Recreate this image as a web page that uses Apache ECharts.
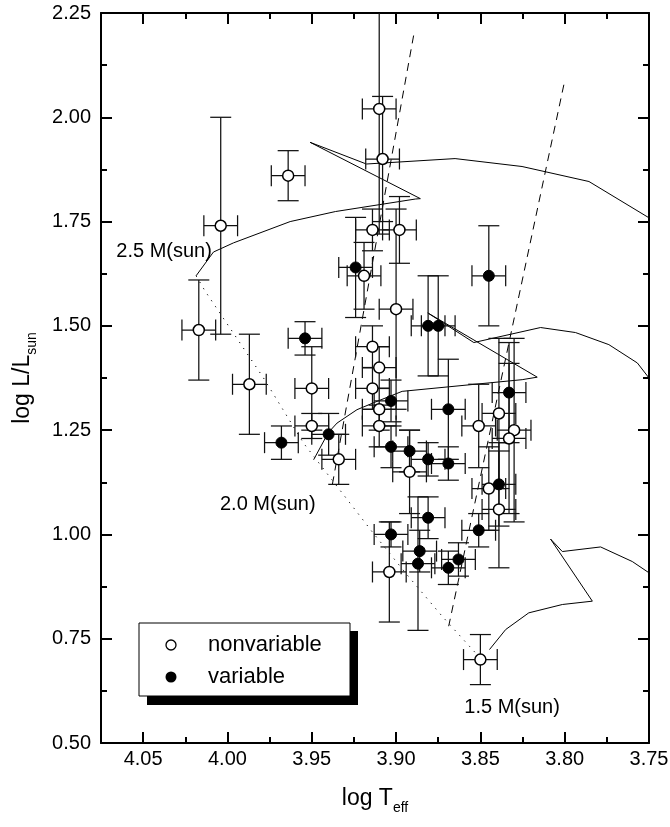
<!DOCTYPE html>
<html>
<head>
<meta charset="utf-8">
<script src="https://cdn.jsdelivr.net/npm/echarts@6.0.0/dist/echarts.min.js"></script>
<style>
  html, body { margin: 0; padding: 0; background: #fff; }
  #chart { width: 670px; height: 827px; }
</style>
</head>
<body>
<div id="chart"></div>
<script>
// nonvariable stars (open circles): log Teff, log L, errors
var nonvarT = [4.004, 3.964, 4.017, 3.987, 3.950, 3.950, 3.934, 3.904, 3.910, 3.908, 3.914, 3.898, 3.919, 3.900,
               3.914, 3.910, 3.914, 3.910, 3.910, 3.892, 3.839, 3.851, 3.830, 3.833, 3.845, 3.839, 3.850];
var nonvarL = [1.74, 1.86, 1.49, 1.36, 1.35, 1.26, 1.18, 0.91, 2.02, 1.90, 1.73, 1.73, 1.62, 1.54,
               1.45, 1.40, 1.35, 1.30, 1.26, 1.15, 1.29, 1.26, 1.25, 1.23, 1.11, 1.06, 0.70];
var nonvarTErr = [0.01, 0.01, 0.01, 0.01, 0.01, 0.01, 0.01, 0.01, 0.01, 0.01, 0.01, 0.01, 0.01, 0.01,
                  0.01, 0.01, 0.01, 0.01, 0.01, 0.01, 0.01, 0.01, 0.01, 0.01, 0.01, 0.01, 0.01];
var nonvarLErr = [0.26, 0.06, 0.12, 0.12, 0.10, 0.03, 0.06, 0.12, 0.30, 0.15, 0.05, 0.08, 0.08, 0.24,
                  0.05, 0.05, 0.05, 0.05, 0.05, 0.10, 0.18, 0.10, 0.22, 0.18, 0.10, 0.14, 0.06];

// variable stars (filled circles)
var varT = [3.954, 3.968, 3.940, 3.924, 3.903, 3.903, 3.892, 3.881, 3.875, 3.845, 3.833,
            3.869, 3.881, 3.869, 3.839, 3.903, 3.881, 3.851, 3.886, 3.887, 3.863, 3.869];
var varL = [1.47, 1.22, 1.24, 1.64, 1.32, 1.21, 1.20, 1.50, 1.50, 1.62, 1.34,
            1.30, 1.18, 1.17, 1.12, 1.00, 1.04, 1.01, 0.96, 0.93, 0.94, 0.92];
var varTErr = [0.01, 0.01, 0.01, 0.01, 0.01, 0.01, 0.01, 0.01, 0.01, 0.01, 0.01,
               0.01, 0.01, 0.01, 0.01, 0.01, 0.01, 0.01, 0.01, 0.01, 0.01, 0.01];
var varLErr = [0.04, 0.04, 0.05, 0.12, 0.05, 0.05, 0.05, 0.12, 0.12, 0.12, 0.12,
               0.12, 0.04, 0.04, 0.10, 0.03, 0.05, 0.04, 0.05, 0.16, 0.04, 0.04];

// evolutionary tracks [log Teff, log L]
var track25 = [[4.0186, 1.620], [4.0083, 1.677], [3.9964, 1.699], [3.9628, 1.750], [3.936, 1.774],
               [3.8886, 1.804], [3.8856, 1.805], [3.951, 1.940], [3.9176, 1.888], [3.865, 1.901],
               [3.8253, 1.882], [3.7856, 1.846], [3.750, 1.759]];
var track20 = [[3.9489, 1.179], [3.9402, 1.244], [3.935, 1.267], [3.9232, 1.299], [3.9113, 1.319],
               [3.8964, 1.343], [3.8252, 1.371], [3.8163, 1.377], [3.8812, 1.531], [3.8539, 1.460],
               [3.8143, 1.496], [3.7936, 1.484], [3.7738, 1.455], [3.7569, 1.411], [3.750, 1.375]];
var track15 = [[3.8446, 0.724], [3.835, 0.772], [3.8213, 0.812], [3.8014, 0.832], [3.7836, 0.840],
               [3.7827, 0.844], [3.8084, 0.989], [3.8014, 0.959], [3.7787, 0.970], [3.7599, 0.935],
               [3.750, 0.908]];
var zams = [[4.0186, 1.620], [4.0132, 1.583], [3.9786, 1.375], [3.9549, 1.219], [3.9143, 1.007],
            [3.8945, 0.908], [3.8727, 0.804], [3.8529, 0.716]];
// instability strip edges
var blueEdge = [[3.8896, 2.196], [3.938, 1.115]];
var redEdge = [[3.8005, 2.078], [3.8688, 0.780]];

// track labels
var massLabels = [[4.0376, 1.678, '2.5 M(sun)'], [3.9761, 1.071, '2.0 M(sun)'], [3.8312, 0.585, '1.5 M(sun)']];

var xTicks = { min: 3.75, max: 4.075, major: 0.05, minor: 0.025 };
var yTicks = { min: 0.5, max: 2.25, major: 0.25 };

var font = 'Liberation Sans, Arial, Helvetica, sans-serif';

function errData(ts, ls, te, le) {
  return ts.map(function (t, i) { return [t, ls[i], te[i], le[i]]; });
}

function errorBars(params, api) {
  var x = api.value(0), y = api.value(1), dx = api.value(2), dy = api.value(3);
  var c = api.coord([x, y]);
  var xl = api.coord([x + dx, y])[0];
  var xr = api.coord([x - dx, y])[0];
  var yt = api.coord([x, y + dy])[1];
  var yb = api.coord([x, y - dy])[1];
  var cap = 10.5;
  function seg(x1, y1, x2, y2) {
    return { type: 'line', shape: { x1: x1, y1: y1, x2: x2, y2: y2 },
             style: { stroke: '#111', lineWidth: 1.25, fill: null } };
  }
  return {
    type: 'group',
    children: [
      seg(xl, c[1], xr, c[1]),
      seg(xl, c[1] - cap, xl, c[1] + cap),
      seg(xr, c[1] - cap, xr, c[1] + cap),
      seg(c[0], yt, c[0], yb),
      seg(c[0] - cap, yt, c[0] + cap, yt),
      seg(c[0] - cap, yb, c[0] + cap, yb)
    ]
  };
}

function xAxisOf(pos, interval, tickLen, withLine, withLabel) {
  var ax = {
    type: 'value', position: pos, min: xTicks.min, max: xTicks.max, inverse: true,
    interval: interval,
    axisLine: { show: withLine, onZero: false, lineStyle: { color: '#000', width: 2 } },
    axisTick: { inside: true, length: tickLen, lineStyle: { color: '#000', width: 2 } },
    axisLabel: { show: withLabel, margin: 6, fontSize: 20, color: '#000', fontFamily: font,
      formatter: function (v) { return v > 4.06 ? '' : v.toFixed(2); } },
    splitLine: { show: false }
  };
  return ax;
}

function yAxisOf(pos, withLabel) {
  return {
    type: 'value', position: pos, min: yTicks.min, max: yTicks.max, interval: yTicks.major,
    axisLine: { show: true, onZero: false, lineStyle: { color: '#000', width: 2 } },
    axisTick: { inside: true, length: 11, lineStyle: { color: '#000', width: 2 } },
    minorTick: { show: true, splitNumber: 2, length: 6, lineStyle: { color: '#000', width: 2 } },
    axisLabel: { show: withLabel, margin: 10, fontSize: 20, color: '#000', fontFamily: font,
      formatter: function (v) { return v.toFixed(2); } },
    splitLine: { show: false },
    minorSplitLine: { show: false }
  };
}

var xMain = xAxisOf('bottom', xTicks.major, 11, true, true);
xMain.name = '{a|log T}{b|eff}';
xMain.nameLocation = 'middle';
xMain.nameGap = 40;
xMain.nameTextStyle = { color: '#000', fontFamily: font, rich: {
  a: { fontSize: 23, fontFamily: font, color: '#000', lineHeight: 32 },
  b: { fontSize: 14, fontFamily: font, color: '#000', lineHeight: 14, verticalAlign: 'bottom' }
} };

var yMain = yAxisOf('left', true);
yMain.name = '{a|log L/L}{b|sun}';
yMain.nameLocation = 'middle';
yMain.nameGap = 62;
yMain.nameTextStyle = { color: '#000', fontFamily: font, rich: {
  a: { fontSize: 23, fontFamily: font, color: '#000', lineHeight: 32 },
  b: { fontSize: 14, fontFamily: font, color: '#000', lineHeight: 14, verticalAlign: 'bottom' }
} };

function lineSeries(data, type) {
  return {
    type: 'line', data: data, showSymbol: false, symbol: 'none', silent: true, z: 3,
    lineStyle: { color: '#000', width: 1, type: type }
  };
}

var chart = echarts.init(document.getElementById('chart'));
var option = {
  animation: false,
  backgroundColor: '#fff',
  grid: { left: 101, right: 21, top: 13, bottom: 84, outerBoundsMode: 'none' },
  xAxis: [
    xMain,
    xAxisOf('bottom', xTicks.minor, 6, false, false),
    xAxisOf('top', xTicks.major, 11, true, false),
    xAxisOf('top', xTicks.minor, 6, false, false)
  ],
  yAxis: [yMain, yAxisOf('right', false)],
  series: [
    lineSeries(track25, 'solid'),
    lineSeries(track20, 'solid'),
    lineSeries(track15, 'solid'),
    lineSeries(zams, [1.2, 6]),
    lineSeries(blueEdge, [8, 6]),
    lineSeries(redEdge, [8, 6]),
    {
      type: 'custom', renderItem: errorBars, clip: true, z: 4,
      data: errData(nonvarT, nonvarL, nonvarTErr, nonvarLErr)
    },
    {
      type: 'custom', renderItem: errorBars, clip: true, z: 4,
      data: errData(varT, varL, varTErr, varLErr)
    },
    {
      name: 'nonvariable', type: 'scatter', symbol: 'circle', symbolSize: 11, z: 5,
      itemStyle: { color: '#fff', borderColor: '#000', borderWidth: 1.5, opacity: 1 },
      data: nonvarT.map(function (t, i) { return [t, nonvarL[i]]; })
    },
    {
      name: 'variable', type: 'scatter', symbol: 'circle', symbolSize: 11, z: 5,
      itemStyle: { color: '#000', borderColor: '#000', borderWidth: 1, opacity: 1 },
      data: varT.map(function (t, i) { return [t, varL[i]]; })
    },
    {
      type: 'scatter', symbolSize: 0, silent: true, z: 6,
      itemStyle: { color: '#000', opacity: 1 },
      label: { show: true, position: 'inside', color: '#000', opacity: 1, fontSize: 20, fontFamily: font,
        textBorderWidth: 0,
        formatter: function (p) { return p.data[2]; } },
      data: massLabels
    }
  ],
  graphic: [
    { type: 'rect', z: 50, shape: { x: 147, y: 631, width: 211, height: 74 }, style: { fill: '#000' } },
    { type: 'rect', z: 51, shape: { x: 139, y: 623, width: 211, height: 73 },
      style: { fill: '#fff', stroke: '#000', lineWidth: 1 } },
    { type: 'circle', z: 52, shape: { cx: 171, cy: 645, r: 5 },
      style: { fill: '#fff', stroke: '#000', lineWidth: 1.3 } },
    { type: 'circle', z: 52, shape: { cx: 171, cy: 677, r: 5.5 }, style: { fill: '#000' } },
    { type: 'text', z: 52, x: 208, y: 645,
      style: { text: 'nonvariable', fontSize: 22, fontFamily: font, fill: '#000', verticalAlign: 'middle' } },
    { type: 'text', z: 52, x: 208, y: 677,
      style: { text: 'variable', fontSize: 22, fontFamily: font, fill: '#000', verticalAlign: 'middle' } }
  ]
};
chart.setOption(option);
</script>
</body>
</html>
